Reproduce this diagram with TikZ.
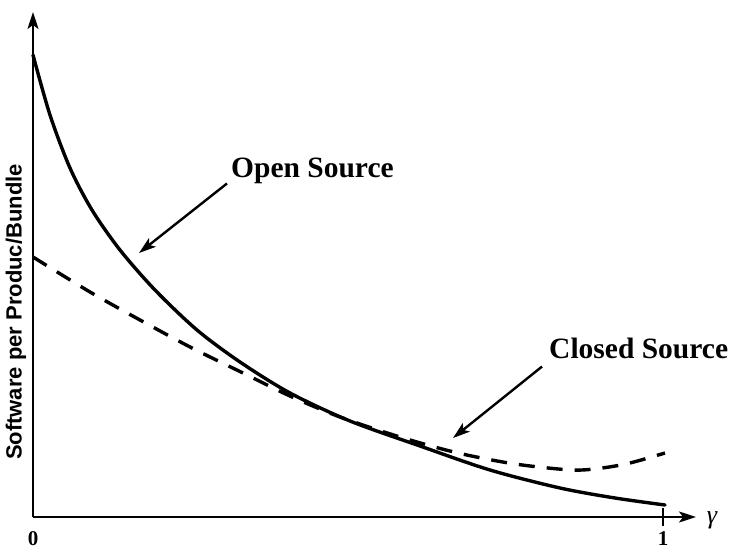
\documentclass[tikz,border=0pt]{standalone}
\usepackage{fontspec}
\setmainfont{Liberation Serif}
\newfontfamily\labelsans{Liberation Sans}
\usetikzlibrary{arrows.meta}

\begin{document}
\begin{tikzpicture}[x=1pt,y=-1pt,
  axis/.style={line width=2pt,-{Stealth[length=17pt,width=11pt,inset=4pt]}},
  pointer/.style={line width=2.4pt,-{Stealth[length=17pt,width=11pt,inset=4pt]}},
  opencurve/.style={line width=3.4pt,line cap=round},
  closedcurve/.style={line width=3.4pt,dash pattern=on 16pt off 12pt},
  curvelabel/.style={font=\bfseries\fontsize{29.5}{29.5}\selectfont,inner sep=0pt,anchor=base west},
  ticklabel/.style={font=\bfseries\fontsize{21}{21}\selectfont,inner sep=0pt}
]
\useasboundingbox (0,0) rectangle (737,551);

% axes
\coordinate (O) at (33,517);
\coordinate (ytop) at (33,12);
\coordinate (xend) at (696,517);
\coordinate (one) at (663,517);
\draw[axis] (O) -- (ytop);
\draw[axis] (O) -- (xend);
\draw[line width=2pt] (one) ++(0,-9) -- ++(0,18);

\node[ticklabel] (zero) at (33,539) {0};
\node[ticklabel] (onelab) at (663,539) {1};
\node[font=\itshape\fontsize{26}{26}\selectfont,inner sep=0pt] (gam) at (712,520) {γ};
\node[rotate=90,font=\labelsans\bfseries\fontsize{22}{22}\selectfont,inner sep=0pt] (ylab) at (16,312) {Software per Produc/Bundle};

% open source curve
\draw[opencurve] plot[smooth] coordinates {
  (33,55) (50,115) (70,168) (92,210) (120,250) (155,290) (197,330)
  (240,362) (290,393) (350,421) (420,446) (490,470) (560,488)
  (615,498) (665,505)};

% closed source curve
\draw[closedcurve] plot[smooth] coordinates {
  (33,257) (90,292) (140,320) (192,348) (243,373) (290,396) (340,417)
  (400,437) (458,453) (515,464) (572,470) (602,468) (630,463) (665,453)};

% labels with pointers
\node[curvelabel] (os) at (231,177) {Open Source};
\coordinate (ostip) at (139,253);
\draw[pointer] ([xshift=-4pt]os.south west) -- (ostip);

\node[curvelabel] (cs) at (549,358) {Closed Source};
\coordinate (cstip) at (453,438);
\draw[pointer] ([xshift=-7pt,yshift=-8pt]cs.south west) -- (cstip);
\end{tikzpicture}
\end{document}
